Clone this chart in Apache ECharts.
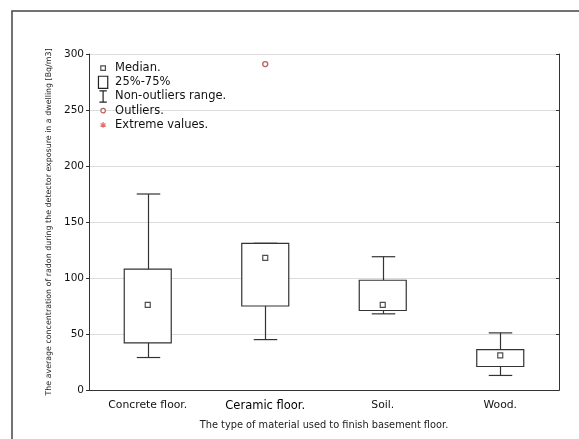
<!DOCTYPE html>
<html>
<head>
<meta charset="utf-8">
<script src="https://cdn.jsdelivr.net/npm/echarts@6/dist/echarts.min.js"></script>
<style>
  html, body { margin: 0; padding: 0; background: #fff; }
  #chart { width: 579px; height: 439px; }
</style>
</head>
<body>
<div id="chart"></div>
<script>
const categories = ['Concrete floor.', 'Ceramic floor.', 'Soil.', 'Wood.']
// non-outlier min, 25%, median, 75%, non-outlier max
const whiskerLow = [29, 45, 68, 13]
const q1 = [42, 75, 71, 21]
const median = [76, 118, 76, 31]
const q3 = [108, 131, 98, 36]
const whiskerHigh = [175, 131, 119, 51]
const outliers = [['Ceramic floor.', 291]]
const extremes = []
const yTicks = [0, 50, 100, 150, 200, 250, 300]

const chart = echarts.init(document.getElementById('chart'))

const boxData = categories.map((c, i) => [i, q1[i], q3[i]])
const whiskerData = categories.map((c, i) => [i, whiskerLow[i], q1[i], q3[i], whiskerHigh[i]])
const medianData = categories.map((c, i) => [c, median[i]])

const font = 'DejaVu Sans'
const box = (p) => 'path://M0 0 M14 14 ' + p

const legendIcons = {
  'Median.': box('M4.5 4.5 L9.5 4.5 L9.5 9.5 L4.5 9.5 Z'),
  '25%-75%': box('M2 0.5 L12 0.5 L12 13.5 L2 13.5 Z'),
  'Non-outliers range.': box('M3 1 L11 1 M7 1 L7 13 M3 13 L11 13'),
  'Outliers.': box('M4.6 7 A2.4 2.4 0 1 1 9.4 7 A2.4 2.4 0 1 1 4.6 7 Z'),
  'Extreme values.': box('M7 3.8 L7 10.2 M4.2 5.4 L9.8 8.6 M4.2 8.6 L9.8 5.4')
}
const legendColors = {
  'Median.': '#222',
  '25%-75%': '#222',
  'Non-outliers range.': '#222',
  'Outliers.': '#a33a32',
  'Extreme values.': '#e04848'
}

const option = {
  animation: false,
  backgroundColor: '#fff',
  graphic: [{
    type: 'rect',
    shape: { x: 12, y: 11, width: 700, height: 600 },
    style: { fill: 'none', stroke: '#444', lineWidth: 1.5 },
    silent: true
  }],
  grid: { left: 89, right: 20, top: 54, bottom: 49 },
  legend: {
    orient: 'vertical',
    left: 96,
    top: 61,
    padding: 0,
    itemWidth: 14,
    itemHeight: 13,
    itemGap: 0,
    textStyle: { fontFamily: font, fontSize: 11.5, lineHeight: 13, color: '#111' },
    data: Object.keys(legendIcons).map((name) => ({
      name,
      icon: legendIcons[name],
      itemStyle: { color: '#fff', borderColor: legendColors[name], borderWidth: 1.2 }
    }))
  },
  xAxis: [{
    type: 'category',
    data: categories,
    position: 'bottom',
    axisLine: { lineStyle: { color: '#333', width: 1 } },
    axisTick: { alignWithLabel: true, inside: true, length: 3, lineStyle: { color: '#333' } },
    axisLabel: {
      interval: 0,
      margin: 10,
      fontFamily: font,
      fontSize: 10.8,
      color: '#111',
      formatter: (v, i) => (i === 1 ? '{big|' + v + '}' : v),
      rich: { big: { fontFamily: font, fontSize: 11.5, color: '#000' } }
    },
    name: 'The type of material used to finish basement floor.',
    nameLocation: 'middle',
    nameGap: 30,
    nameTextStyle: { fontFamily: font, fontSize: 9.8, color: '#222' }
  }, {
    type: 'category',
    data: categories,
    position: 'top',
    axisLine: { lineStyle: { color: '#333', width: 1 } },
    axisTick: { alignWithLabel: true, inside: true, length: 3, lineStyle: { color: '#333' } },
    axisLabel: { show: false }
  }],
  yAxis: [{
    type: 'value',
    min: yTicks[0],
    max: yTicks[yTicks.length - 1],
    interval: 50,
    position: 'left',
    axisLine: { show: true, lineStyle: { color: '#333', width: 1 } },
    axisTick: { show: true, length: 3, lineStyle: { color: '#333' } },
    axisLabel: { margin: 5, fontFamily: font, fontSize: 10.5, color: '#111' },
    splitLine: { show: true, lineStyle: { color: '#dcdcdc', width: 1 } },
    name: 'The average concentration of radon during the detector exposure in a dwelling [Bq/m3]',
    nameLocation: 'middle',
    nameGap: 26,
    nameTextStyle: { fontFamily: font, fontSize: 7.9, color: '#222' }
  }, {
    type: 'value',
    min: yTicks[0],
    max: yTicks[yTicks.length - 1],
    interval: 50,
    position: 'right',
    axisLine: { show: true, lineStyle: { color: '#333', width: 1 } },
    axisTick: { show: true, inside: true, length: 3, lineStyle: { color: '#333' } },
    axisLabel: { show: false },
    splitLine: { show: false }
  }],
  series: [
    {
      name: 'Non-outliers range.',
      type: 'custom',
      data: whiskerData,
      renderItem: (params, api) => {
        const idx = api.value(0)
        const pLow = api.coord([idx, api.value(1)])
        const pQ1 = api.coord([idx, api.value(2)])
        const pQ3 = api.coord([idx, api.value(3)])
        const pHigh = api.coord([idx, api.value(4)])
        const half = api.size([1, 0])[0] * 0.1
        const style = { stroke: '#333', lineWidth: 1.2 }
        const x = Math.round(pLow[0]) + 0.5
        return {
          type: 'group',
          children: [
            { type: 'line', shape: { x1: x, y1: pLow[1], x2: x, y2: pQ1[1] }, style },
            { type: 'line', shape: { x1: x, y1: pQ3[1], x2: x, y2: pHigh[1] }, style },
            { type: 'line', shape: { x1: x - half, y1: pLow[1], x2: x + half, y2: pLow[1] }, style },
            { type: 'line', shape: { x1: x - half, y1: pHigh[1], x2: x + half, y2: pHigh[1] }, style }
          ]
        }
      }
    },
    {
      name: '25%-75%',
      type: 'custom',
      data: boxData,
      renderItem: (params, api) => {
        const idx = api.value(0)
        const top = api.coord([idx, api.value(2)])
        const bottom = api.coord([idx, api.value(1)])
        const w = api.size([1, 0])[0] * 0.4
        return {
          type: 'rect',
          shape: { x: top[0] - w / 2, y: top[1], width: w, height: bottom[1] - top[1] },
          style: { fill: '#fff', stroke: '#333', lineWidth: 1.2 }
        }
      }
    },
    {
      name: 'Median.',
      type: 'scatter',
      data: medianData,
      symbol: 'rect',
      symbolSize: 5,
      itemStyle: { color: '#fff', borderColor: '#222', borderWidth: 1.2 },
      z: 5
    },
    {
      name: 'Outliers.',
      type: 'scatter',
      data: outliers,
      symbol: 'circle',
      symbolSize: 5,
      itemStyle: { color: '#fff', borderColor: '#a33a32', borderWidth: 1.3 },
      z: 5
    },
    {
      name: 'Extreme values.',
      type: 'scatter',
      data: extremes,
      itemStyle: { color: '#e04848' }
    }
  ]
}

chart.setOption(option)
window.addEventListener('resize', () => chart.resize())
</script>
</body>
</html>
